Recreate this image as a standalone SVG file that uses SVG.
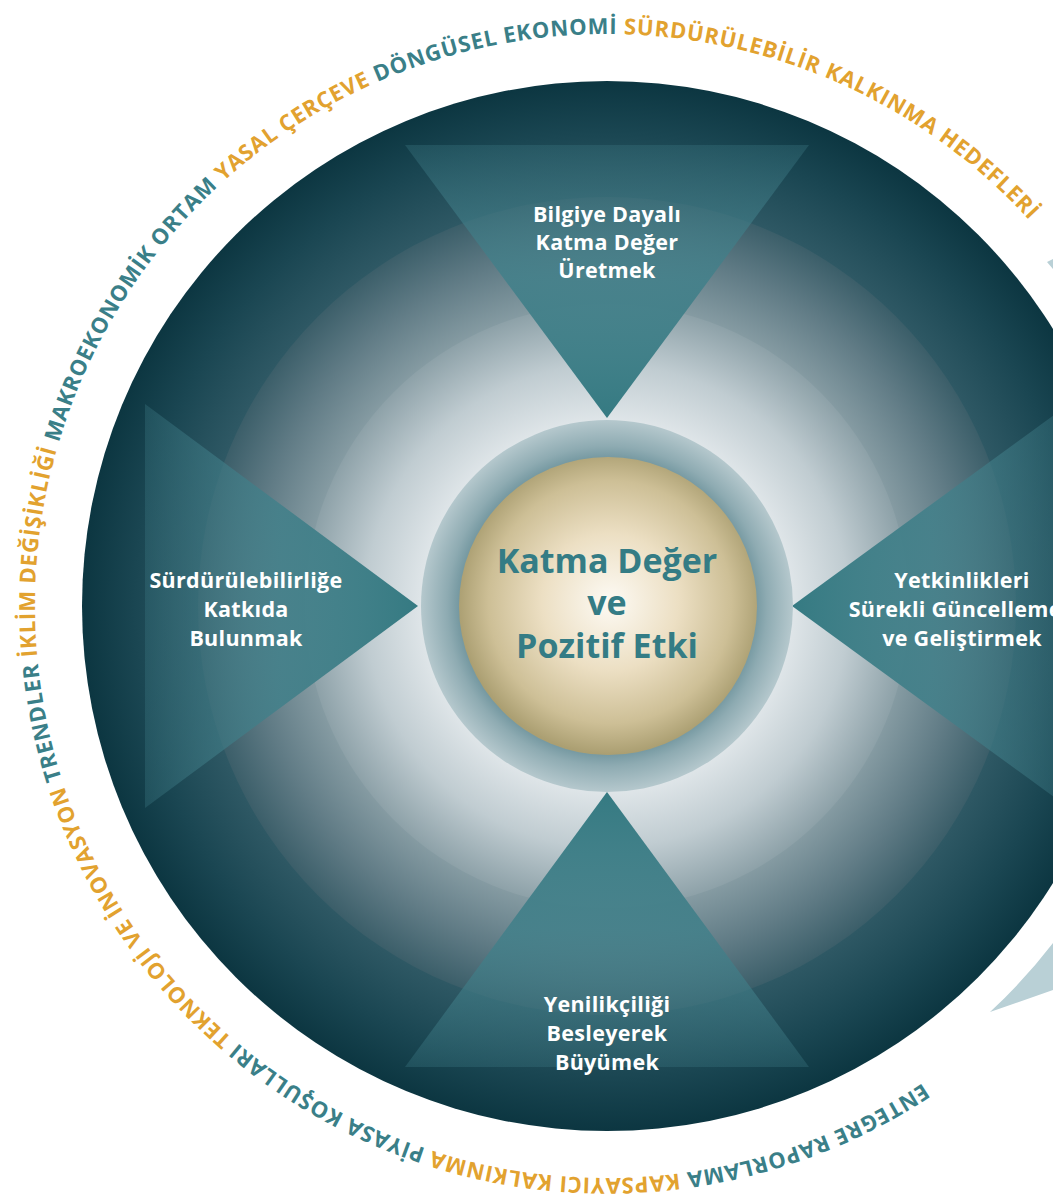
<svg xmlns="http://www.w3.org/2000/svg" width="1053" height="1202" viewBox="0 0 1053 1202">
<style>
.lbl{font-family:"Open Sans","Noto Sans","DejaVu Sans",sans-serif;font-size:21.5px;font-weight:700;fill:#ffffff;text-anchor:middle;letter-spacing:0.3px}
.ctr{font-family:"Open Sans","Noto Sans","DejaVu Sans",sans-serif;font-size:34px;font-weight:700;fill:#347c85;text-anchor:middle}
.ring{font-family:"Open Sans","Noto Sans",sans-serif;font-size:22px;font-weight:700}
.t{fill:#3a7f88}
.o{fill:#e2a22f}
</style>
<defs>
<radialGradient id="gA" gradientUnits="userSpaceOnUse" cx="607" cy="606" r="525">
<stop offset="0.7" stop-color="#46707b"/>
<stop offset="0.78" stop-color="#2e5864"/>
<stop offset="0.9" stop-color="#1a4652"/>
<stop offset="1" stop-color="#0c3641"/>
</radialGradient>
<radialGradient id="gB" gradientUnits="userSpaceOnUse" cx="607" cy="606" r="409">
<stop offset="0.72" stop-color="#8a9fa6"/>
<stop offset="0.87" stop-color="#617c86"/>
<stop offset="1" stop-color="#3b5e69"/>
</radialGradient>
<radialGradient id="gC" gradientUnits="userSpaceOnUse" cx="607" cy="606" r="302">
<stop offset="0.6" stop-color="#e1e7ea"/>
<stop offset="0.8" stop-color="#c0ccd1"/>
<stop offset="1" stop-color="#8da1a8"/>
</radialGradient>
<radialGradient id="gD" gradientUnits="userSpaceOnUse" cx="607" cy="606" r="186">
<stop offset="0.78" stop-color="#6f949d"/>
<stop offset="0.86" stop-color="#8eabb2"/>
<stop offset="1" stop-color="#b5c8cd"/>
</radialGradient>
<radialGradient id="gG" gradientUnits="userSpaceOnUse" cx="610" cy="602" r="152">
<stop offset="0" stop-color="#fdfaf4"/>
<stop offset="0.45" stop-color="#ecdfc3"/>
<stop offset="0.8" stop-color="#cdbf96"/>
<stop offset="1" stop-color="#ab9f72"/>
</radialGradient>
<linearGradient id="triT" x1="0" y1="0" x2="0" y2="1">
<stop offset="0" stop-color="#3a7580" stop-opacity="0.35"/>
<stop offset="0.5" stop-color="#43808a" stop-opacity="0.9"/>
<stop offset="1" stop-color="#357a82" stop-opacity="1"/>
</linearGradient>
<linearGradient id="triB" x1="0" y1="1" x2="0" y2="0">
<stop offset="0" stop-color="#3a7580" stop-opacity="0.35"/>
<stop offset="0.5" stop-color="#43808a" stop-opacity="0.9"/>
<stop offset="1" stop-color="#357a82" stop-opacity="1"/>
</linearGradient>
<linearGradient id="triL" x1="0" y1="0" x2="1" y2="0">
<stop offset="0" stop-color="#3a7580" stop-opacity="0.35"/>
<stop offset="0.5" stop-color="#43808a" stop-opacity="0.9"/>
<stop offset="1" stop-color="#357a82" stop-opacity="1"/>
</linearGradient>
<linearGradient id="triR" x1="1" y1="0" x2="0" y2="0">
<stop offset="0" stop-color="#3a7580" stop-opacity="0.35"/>
<stop offset="0.5" stop-color="#43808a" stop-opacity="0.9"/>
<stop offset="1" stop-color="#357a82" stop-opacity="1"/>
</linearGradient>
<path id="ringPath" d="M922.7,1083 A572,572 0 1 1 1028.7,219.6"/>
</defs>
<rect width="1053" height="1202" fill="#ffffff"/>

<g id="background-rings">
<circle cx="607" cy="606" r="525" fill="url(#gA)"/>
<circle cx="607" cy="606" r="409" fill="url(#gB)"/>
<circle cx="607" cy="606" r="302" fill="url(#gC)"/>
</g>

<g id="outer-arrow">
<path d="M990,1012 L1053,990 L1053,943 A559,559 0 0 1 990,1012 Z" fill="#b9d0d6"/>
<path d="M1047,262 L1053,259 L1053,269 Z" fill="#b9d0d6"/>
</g>

<g id="node-top">
<polygon points="405,145 809,145 607,418" fill="url(#triT)"/>
<text class="lbl" x="607" y="222">Bilgiye Dayalı</text>
<text class="lbl" x="607" y="250">Katma Değer</text>
<text class="lbl" x="607" y="278">Üretmek</text>
</g>

<g id="node-left">
<polygon points="145,404 145,808 418,606" fill="url(#triL)"/>
<text class="lbl" x="246" y="588">Sürdürülebilirliğe</text>
<text class="lbl" x="246" y="617">Katkıda</text>
<text class="lbl" x="246" y="646">Bulunmak</text>
</g>

<g id="node-right">
<polygon points="1069,404 1069,808 792,606" fill="url(#triR)"/>
<text class="lbl" x="962" y="588">Yetkinlikleri</text>
<text class="lbl" x="962" y="617">Sürekli Güncellemek</text>
<text class="lbl" x="962" y="646">ve Geliştirmek</text>
</g>

<g id="node-bottom">
<polygon points="405,1067 809,1067 607,792" fill="url(#triB)"/>
<text class="lbl" x="607" y="1012">Yenilikçiliği</text>
<text class="lbl" x="607" y="1041">Besleyerek</text>
<text class="lbl" x="607" y="1070">Büyümek</text>
</g>

<g id="node-center">
<circle cx="607" cy="606" r="186" fill="url(#gD)"/>
<circle cx="608" cy="606" r="149" fill="url(#gG)"/>
<text class="ctr" x="607" y="573">Katma Değer</text>
<text class="ctr" x="607" y="615">ve</text>
<text class="ctr" x="607" y="658">Pozitif Etki</text>
</g>

<g id="connectors"></g>

<g id="ring-text">
<text class="ring"><textPath href="#ringPath" textLength="2606" lengthAdjust="spacing"><tspan class="t">ENTEGRE RAPORLAMA </tspan><tspan class="o">KAPSAYICI KALKINMA </tspan><tspan class="t">PİYASA KOŞULLARI </tspan><tspan class="o">TEKNOLOJİ VE İNOVASYON </tspan><tspan class="t">TRENDLER </tspan><tspan class="o">İKLİM DEĞİŞİKLİĞİ </tspan><tspan class="t">MAKROEKONOMİK ORTAM </tspan><tspan class="o">YASAL ÇERÇEVE </tspan><tspan class="t">DÖNGÜSEL EKONOMİ </tspan><tspan class="o">SÜRDÜRÜLEBİLİR KALKINMA HEDEFLERİ</tspan></textPath></text>
</g>
</svg>
